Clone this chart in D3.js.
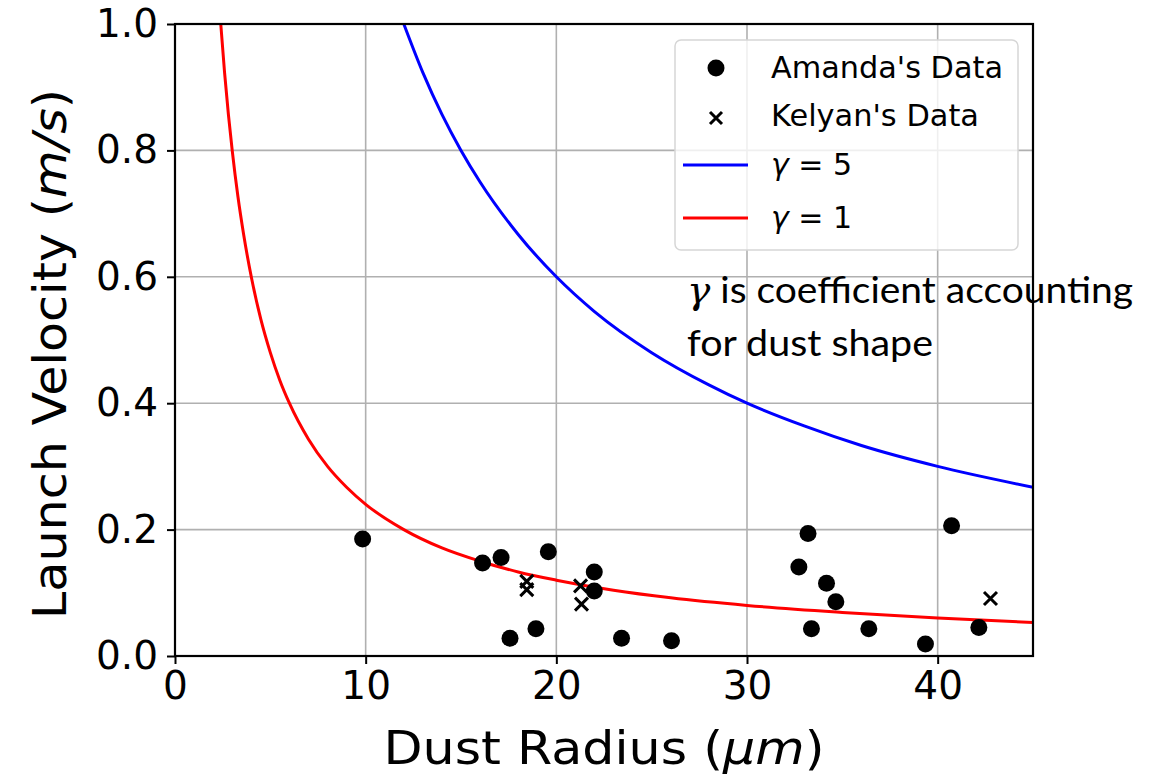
<!DOCTYPE html>
<html>
<head>
<meta charset="utf-8">
<script src="https://cdn.jsdelivr.net/npm/d3@7"></script>
<style>
  html, body { margin: 0; padding: 0; background: #fff; }
  svg { display: block; font-family: "DejaVu Sans", sans-serif; }
</style>
</head>
<body>
<svg id="chart" width="1166" height="777"></svg>
<script>
// Measured launch velocities: dust radius (µm) and velocity (m/s)
const amandaRadius = [9.84, 16.13, 17.10, 17.57, 18.93, 19.58, 21.99, 21.99, 23.42, 26.04,
                      32.72, 33.20, 33.38, 34.17, 34.66, 36.39, 39.36, 40.73, 42.16];
const amandaVelocity = [0.185, 0.147, 0.156, 0.028, 0.043, 0.165, 0.133, 0.103, 0.028, 0.024,
                        0.141, 0.194, 0.043, 0.115, 0.086, 0.043, 0.019, 0.206, 0.045];

const kelyanRadius = [18.45, 18.45, 21.27, 21.32, 42.77];
const kelyanVelocity = [0.118, 0.105, 0.111, 0.082, 0.091];

// Model curves for two shape coefficients
const gamma5Radius = [12, 13, 14, 15, 16, 18, 20, 22, 25, 28, 30, 33, 36, 40, 45];
const gamma5Velocity = [1.0, 0.923, 0.857, 0.8, 0.75, 0.667, 0.6, 0.545, 0.48, 0.429, 0.4, 0.364, 0.333, 0.3, 0.267];

const gamma1Radius = [2.4, 2.6, 2.8, 3, 3.3, 3.6, 4, 4.5, 5, 5.5, 6, 7, 8, 9, 10, 12, 14, 16, 18, 20, 23, 26, 30, 35, 40, 45];
const gamma1Velocity = [1.0, 0.923, 0.857, 0.8, 0.727, 0.667, 0.6, 0.533, 0.48, 0.436, 0.4, 0.343, 0.3, 0.267,
                        0.24, 0.2, 0.171, 0.15, 0.133, 0.12, 0.104, 0.092, 0.08, 0.069, 0.06, 0.053];

const xTicks = [0, 10, 20, 30, 40];
const yTicks = [0.0, 0.2, 0.4, 0.6, 0.8, 1.0];

const svg = d3.select("#chart");
const margin = { left: 175, right: 133, top: 24, bottom: 121 };
const W = 1166, H = 777;
const plotW = W - margin.left - margin.right;
const plotH = H - margin.top - margin.bottom;

const x = d3.scaleLinear().domain([0, 45]).range([margin.left, margin.left + plotW]);
const y = d3.scaleLinear().domain([0, 1]).range([margin.top + plotH, margin.top]);

svg.append("defs").append("clipPath").attr("id", "plotClip")
  .append("rect").attr("x", margin.left).attr("y", margin.top)
  .attr("width", plotW).attr("height", plotH);

// Grid
const grid = svg.append("g").attr("stroke", "#b0b0b0").attr("stroke-width", 1.6);
grid.selectAll("line.gx").data(xTicks).join("line")
  .attr("x1", d => x(d)).attr("x2", d => x(d))
  .attr("y1", margin.top).attr("y2", margin.top + plotH);
grid.selectAll("line.gy").data(yTicks).join("line")
  .attr("y1", d => y(d)).attr("y2", d => y(d))
  .attr("x1", margin.left).attr("x2", margin.left + plotW);

// Curves
const line = d3.line().curve(d3.curveMonotoneX).x(d => x(d[0])).y(d => y(d[1]));
const curves = svg.append("g").attr("clip-path", "url(#plotClip)");
curves.append("path").datum(d3.zip(gamma5Radius, gamma5Velocity))
  .attr("d", line).attr("fill", "none").attr("stroke", "#0000ff").attr("stroke-width", 3);
curves.append("path").datum(d3.zip(gamma1Radius, gamma1Velocity))
  .attr("d", line).attr("fill", "none").attr("stroke", "#ff0000").attr("stroke-width", 3);

// Scatter points
svg.append("g").selectAll("circle").data(d3.zip(amandaRadius, amandaVelocity)).join("circle")
  .attr("cx", d => x(d[0])).attr("cy", d => y(d[1])).attr("r", 8.5).attr("fill", "#000");

const xs = 6.5;
const crossPath = d => `M${x(d[0]) - xs},${y(d[1]) - xs}L${x(d[0]) + xs},${y(d[1]) + xs}M${x(d[0]) - xs},${y(d[1]) + xs}L${x(d[0]) + xs},${y(d[1]) - xs}`;
svg.append("g").selectAll("path").data(d3.zip(kelyanRadius, kelyanVelocity)).join("path")
  .attr("d", crossPath).attr("stroke", "#000").attr("stroke-width", 3).attr("fill", "none");

// Axes
const xAxis = d3.axisBottom(x).tickValues(xTicks).tickFormat(d3.format("d")).tickSize(8).tickPadding(7);
const yAxis = d3.axisLeft(y).tickValues(yTicks).tickFormat(d3.format(".1f")).tickSize(8).tickPadding(9);

const gx = svg.append("g").attr("transform", `translate(0,${margin.top + plotH})`).call(xAxis);
const gy = svg.append("g").attr("transform", `translate(${margin.left},0)`).call(yAxis);
[gx, gy].forEach(g => {
  g.select(".domain").remove();
  g.selectAll(".tick line").attr("stroke", "#000").attr("stroke-width", 2);
  g.selectAll(".tick text")
    .style("font-family", "'DejaVu Sans', sans-serif")
    .style("font-size", "39px").attr("fill", "#000");
});

// Frame
svg.append("rect").attr("x", margin.left).attr("y", margin.top)
  .attr("width", plotW).attr("height", plotH)
  .attr("fill", "none").attr("stroke", "#000").attr("stroke-width", 2.2);

// Axis titles
const xt = svg.append("text").attr("x", x(22.5)).attr("y", 764)
  .attr("text-anchor", "middle").style("font-size", "46px")
  .attr("textLength", 441).attr("lengthAdjust", "spacingAndGlyphs");
xt.append("tspan").text("Dust Radius (");
xt.append("tspan").attr("font-style", "italic").text("µm");
xt.append("tspan").text(")");

const yt = svg.append("text")
  .attr("transform", `translate(66,${y(0.5) + 14}) rotate(-90)`)
  .attr("text-anchor", "middle").style("font-size", "46px")
  .attr("textLength", 530).attr("lengthAdjust", "spacingAndGlyphs");
yt.append("tspan").text("Launch Velocity (");
yt.append("tspan").attr("font-style", "italic").text("m/s");
yt.append("tspan").text(")");

// Legend
const legend = svg.append("g");
legend.append("rect").attr("x", 675).attr("y", 40).attr("width", 343).attr("height", 210)
  .attr("rx", 6).attr("fill", "#fff").attr("fill-opacity", 0.8)
  .attr("stroke", "#d6d6d6").attr("stroke-width", 1.5);

const legendItems = [
  { kind: "dot", label: "Amanda's Data", cy: 68, len: 232 },
  { kind: "cross", label: "Kelyan's Data", cy: 116, len: 208 },
  { kind: "line", color: "#0000ff", gamma: "5", cy: 165 },
  { kind: "line", color: "#ff0000", gamma: "1", cy: 218 }
];
legendItems.forEach(it => {
  if (it.kind === "dot") {
    legend.append("circle").attr("cx", 716).attr("cy", it.cy).attr("r", 8.5).attr("fill", "#000");
  } else if (it.kind === "cross") {
    const s = 6;
    legend.append("path")
      .attr("d", `M${716 - s},${it.cy + 2 - s}L${716 + s},${it.cy + 2 + s}M${716 - s},${it.cy + 2 + s}L${716 + s},${it.cy + 2 - s}`)
      .attr("stroke", "#000").attr("stroke-width", 3);
  } else {
    legend.append("line").attr("x1", 683).attr("x2", 748).attr("y1", it.cy).attr("y2", it.cy)
      .attr("stroke", it.color).attr("stroke-width", 3);
  }
  const t = legend.append("text").attr("x", 771).attr("y", it.cy + 10).style("font-size", "30px");
  if (it.label) {
    t.text(it.label).attr("textLength", it.len).attr("lengthAdjust", "spacingAndGlyphs");
  } else {
    t.append("tspan").attr("font-style", "italic").text("γ");
    t.append("tspan").text(" = " + it.gamma);
  }
});

// Note on the shape coefficient
const note = svg.append("g").style("font-family", "Lato, 'Open Sans', sans-serif").style("font-size", "37px");
const n1 = note.append("text").attr("x", 687).attr("y", 303)
  .attr("textLength", 446).attr("lengthAdjust", "spacingAndGlyphs");
n1.append("tspan").style("font-family", "'DejaVu Serif', serif").style("font-style", "italic").text("γ");
n1.append("tspan").text(" is coefficient accounting");
note.append("text").attr("x", 687).attr("y", 356)
  .attr("textLength", 246).attr("lengthAdjust", "spacingAndGlyphs")
  .text("for dust shape");
</script>
</body>
</html>
